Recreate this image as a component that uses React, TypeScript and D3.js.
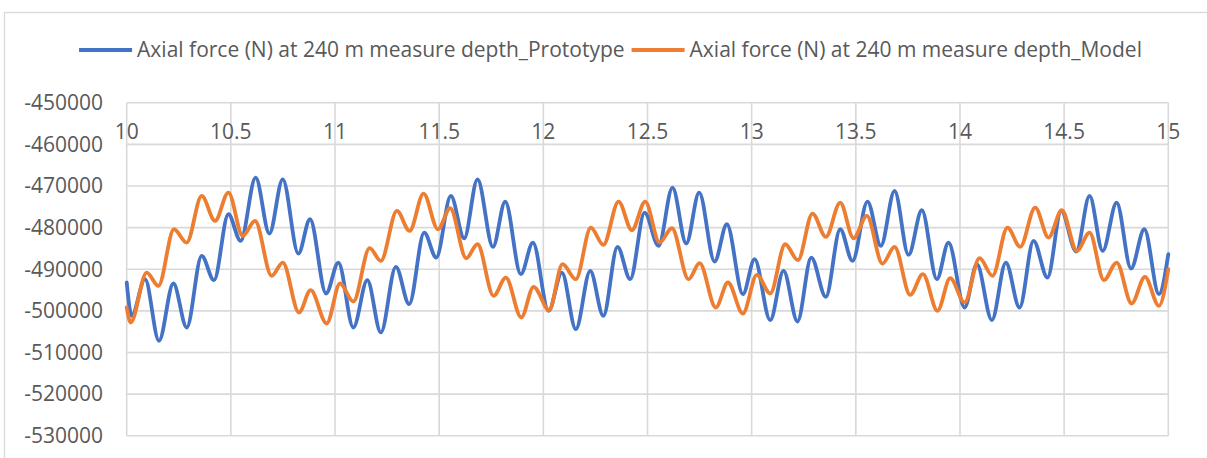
import React, { useEffect, useRef } from 'react';
import * as d3 from 'd3';

// extrema (x = measure time, y = axial force N)
const protoX = [10, 10.024, 10.088, 10.155, 10.224, 10.288, 10.36, 10.419, 10.488, 10.547, 10.619, 10.685, 10.749, 10.824, 10.88, 10.957, 11.016, 11.088, 11.155,
  11.22, 11.292, 11.356, 11.428, 11.486, 11.556, 11.62, 11.684, 11.758, 11.817, 11.892, 11.95, 12.025, 12.089, 12.156, 12.225, 12.288,
  12.356, 12.417, 12.486, 12.553, 12.62, 12.686, 12.748, 12.822, 12.881, 12.958, 13.014, 13.089, 13.153, 13.22, 13.286, 13.356, 13.425,
  13.484, 13.556, 13.62, 13.686, 13.753, 13.817, 13.889, 13.945, 14.022, 14.081, 14.153, 14.22, 14.286, 14.353, 14.42, 14.486, 14.558, 14.622,
  14.685, 14.752, 14.821, 14.885, 14.955, 15];
const protoY = [-493200, -501200, -492400, -507200, -493440, -504000, -486800, -492640, -476800, -483200, -468000, -481440, -468400, -486240, -478000, -495840, -488400, -504000, -492640,
  -505200, -489440, -498400, -481200, -487200, -472400, -482560, -468400, -484640, -473760, -491200, -483600, -500000, -490800, -504400, -490400, -501200,
  -484640, -492400, -476400, -484400, -470400, -483840, -471600, -488160, -479200, -496000, -487600, -502240, -490400, -502560, -487200, -496640, -480400,
  -488000, -473760, -484400, -471200, -486560, -475840, -492400, -483600, -499200, -488800, -502240, -488400, -499200, -483200, -492000, -476000, -485760, -472400,
  -485600, -474000, -489840, -480400, -496000, -486400];

const modelX = [10, 10.019, 10.096, 10.152, 10.227, 10.288, 10.36, 10.424, 10.488, 10.557, 10.616, 10.696, 10.749, 10.827, 10.883, 10.96, 11.024, 11.088,
  11.166, 11.22, 11.297, 11.358, 11.425, 11.494, 11.553, 11.63, 11.684, 11.761, 11.82, 11.894, 11.953, 12.028, 12.092, 12.156, 12.228, 12.288,
  12.361, 12.425, 12.489, 12.558, 12.617, 12.697, 12.75, 12.828, 12.886, 12.958, 13.025, 13.089, 13.161, 13.222, 13.292, 13.356, 13.425,
  13.489, 13.553, 13.628, 13.686, 13.761, 13.822, 13.892, 13.953, 14.022, 14.094, 14.156, 14.228, 14.289, 14.361, 14.425, 14.489, 14.561, 14.622,
  14.691, 14.752, 14.824, 14.888, 14.955, 15];
const modelY = [-499200, -502800, -490800, -494000, -480400, -483600, -472400, -478400, -471600, -482000, -478400, -491600, -488400, -500400, -495040, -503040, -493440, -497760,
  -484960, -488000, -476000, -480800, -471840, -480400, -475360, -487360, -484000, -496400, -492000, -501600, -494240, -499840, -488800, -492400, -480000, -484160,
  -473760, -480640, -473760, -483600, -480160, -492400, -488560, -499200, -493200, -500640, -491360, -495840, -484000, -487840, -476640, -482240, -474000,
  -482560, -477200, -488640, -484640, -496160, -491200, -500000, -492160, -498000, -487360, -491600, -480000, -484640, -475200, -482400, -475840, -485600, -481200,
  -492640, -488400, -498240, -491840, -498800, -490000];

const xTicks = [10, 10.5, 11, 11.5, 12, 12.5, 13, 13.5, 14, 14.5, 15];
const yTicks = [-450000, -460000, -470000, -480000, -490000, -500000, -510000, -520000, -530000];

const seriesNames = [
  'Axial force (N) at 240 m measure depth_Prototype',
  'Axial force (N) at 240 m measure depth_Model',
];
const seriesColors = ['#4472C4', '#ED7D31'];

const W = 1207;
const H = 458;
const FONT = '"Open Sans", sans-serif';

const App = () => {
  const ref = useRef(null);

  useEffect(() => {
    const svg = d3.select(ref.current);
    svg.selectAll('*').remove();

    const x = d3.scaleLinear().domain([10, 15]).range([126.7, 1168.3]);
    const y = d3.scaleLinear().domain([-530000, -450000]).range([435.7, 102.7]);

    // chart frame
    svg.append('rect')
      .attr('x', 4.5).attr('y', 12.5)
      .attr('width', 1400).attr('height', 600)
      .attr('fill', 'white')
      .attr('stroke', '#d9d9d9')
      .attr('stroke-width', 1.3);

    const grid = svg.append('g').attr('stroke', '#d9d9d9').attr('stroke-width', 1.6);
    grid.selectAll('line.h')
      .data(yTicks)
      .enter()
      .append('line')
      .attr('x1', x(10)).attr('x2', x(15))
      .attr('y1', d => y(d)).attr('y2', d => y(d));
    grid.selectAll('line.v')
      .data(xTicks)
      .enter()
      .append('line')
      .attr('x1', d => x(d)).attr('x2', d => x(d))
      .attr('y1', y(-450000)).attr('y2', y(-530000));

    // y labels
    svg.append('g')
      .selectAll('text')
      .data(yTicks)
      .enter()
      .append('text')
      .attr('x', 103)
      .attr('y', d => y(d))
      .attr('dy', '0.35em')
      .attr('text-anchor', 'end')
      .style('font-family', FONT)
      .style('font-size', '21px')
      .style('fill', '#595959')
      .text(d => d);

    // x labels (axis sits at the top)
    svg.append('g')
      .selectAll('text')
      .data(xTicks)
      .enter()
      .append('text')
      .attr('x', d => x(d))
      .attr('y', 132)
      .attr('dy', '0.35em')
      .attr('text-anchor', 'middle')
      .style('font-family', FONT)
      .style('font-size', '21px')
      .style('fill', '#595959')
      .text(d => d);

    const line = d3.line()
      .x(d => x(d[0]))
      .y(d => y(d[1]))
      .curve(d3.curveMonotoneX);

    const series = [
      d3.zip(protoX, protoY),
      d3.zip(modelX, modelY),
    ];

    svg.append('g')
      .selectAll('path')
      .data(series)
      .enter()
      .append('path')
      .attr('d', d => line(d))
      .attr('fill', 'none')
      .attr('stroke', (d, i) => seriesColors[i])
      .attr('stroke-width', 3.8)
      .attr('stroke-linejoin', 'round')
      .attr('stroke-linecap', 'round');

    // legend
    const lg = svg.append('g');
    let cx = 0;
    seriesNames.forEach((name, i) => {
      lg.append('line')
        .attr('x1', cx).attr('x2', cx + 53)
        .attr('y1', 50).attr('y2', 50)
        .attr('stroke', seriesColors[i])
        .attr('stroke-width', 3.8);
      const t = lg.append('text')
        .attr('x', cx + 58)
        .attr('y', 50)
        .attr('dy', '0.35em')
        .style('font-family', FONT)
        .style('font-size', '21px')
        .style('fill', '#595959')
        .text(name);
      cx += 58 + t.node().getComputedTextLength() + 7;
    });
    const total = cx - 7;
    lg.attr('transform', `translate(${610.5 - total / 2},0)`);
  }, []);

  return (
    <svg
      ref={ref}
      width={W}
      height={H}
      style={{ position: 'absolute', left: 0, top: 0, background: 'white' }}
    />
  );
};

export default App;
